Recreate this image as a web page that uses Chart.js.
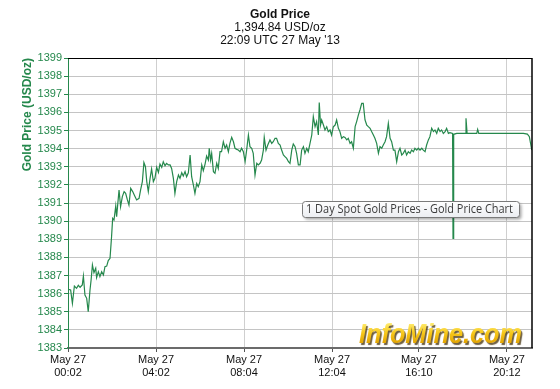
<!DOCTYPE html>
<html><head><meta charset="utf-8">
<script src="https://cdn.jsdelivr.net/npm/chart.js@4.4.0/dist/chart.umd.min.js"></script>
<style>html,body{margin:0;padding:0;background:#fff;overflow:hidden}</style>
</head><body><canvas id="c" width="560" height="389"></canvas>
<script>
// hours since 00:02 UTC, 27 May 2013
const times = [0.02,0.12,0.20,0.29,0.39,0.47,0.55,0.65,0.70,0.77,
0.85,0.92,1.00,1.05,1.11,1.18,1.26,1.30,1.38,1.45,
1.53,1.61,1.68,1.76,1.83,1.91,1.98,2.03,2.09,2.17,
2.21,2.32,2.39,2.47,2.55,2.62,2.70,2.77,2.85,2.94,
3.05,3.12,3.23,3.30,3.38,3.45,3.52,3.58,3.65,3.73,
3.80,3.88,3.95,4.03,4.11,4.18,4.26,4.33,4.41,4.48,
4.56,4.64,4.71,4.79,4.86,4.94,5.02,5.09,5.17,5.24,
5.32,5.39,5.47,5.55,5.62,5.70,5.77,5.85,5.92,6.00,
6.08,6.15,6.23,6.30,6.38,6.42,6.48,6.53,6.61,6.68,
6.76,6.83,6.91,6.98,7.06,7.14,7.21,7.29,7.36,7.44,
7.52,7.59,7.67,7.74,7.82,7.89,7.97,8.05,8.12,8.20,
8.27,8.35,8.42,8.50,8.58,8.65,8.73,8.80,8.88,8.92,
9.00,9.08,9.18,9.26,9.33,9.41,9.48,9.56,9.64,9.71,
9.79,9.86,9.94,10.02,10.09,10.17,10.24,10.32,10.39,10.47,
10.55,10.62,10.70,10.77,10.85,10.92,11.00,11.08,11.15,11.23,
11.30,11.38,11.42,11.48,11.53,11.61,11.68,11.76,11.83,11.91,
11.98,12.06,12.14,12.21,12.29,12.36,12.44,12.52,12.59,12.67,
12.74,12.82,12.89,12.97,13.05,13.12,13.20,13.27,13.35,13.42,
13.50,13.58,13.65,13.73,13.80,13.88,13.95,14.03,14.11,14.18,
14.26,14.33,14.41,14.48,14.56,14.64,14.71,14.79,14.86,14.94,
15.02,15.09,15.17,15.24,15.32,15.39,15.47,15.55,15.62,15.70,
15.77,15.85,15.92,16.00,16.08,16.15,16.23,16.30,16.38,16.45,
16.53,16.61,16.68,16.76,16.83,16.91,16.98,17.06,17.14,17.21,
17.29,17.36,17.48,17.50,17.53,17.67,18.05,18.09,18.14,18.58,
18.62,18.67,19.18,19.94,20.70,20.88,20.97,21.08];
const prices = [1386.24,1386.20,1385.46,1386.42,1386.29,1386.46,1386.35,1386.48,1386.97,1385.92,
1385.74,1385.00,1386.20,1386.75,1387.58,1387.16,1387.40,1386.88,1387.21,1386.94,
1387.21,1387.03,1387.49,1387.52,1387.82,1387.95,1389.14,1390.15,1390.06,1390.83,
1390.25,1391.72,1390.80,1391.35,1391.63,1391.53,1391.17,1390.89,1391.81,1391.63,
1391.35,1391.17,1391.26,1391.72,1392.18,1393.23,1393.00,1392.18,1391.63,1392.36,
1392.88,1392.18,1392.36,1392.97,1392.69,1393.15,1392.97,1393.28,1393.06,1393.19,
1393.10,1393.10,1392.91,1392.36,1391.53,1392.18,1392.54,1392.36,1392.67,1392.49,
1392.73,1392.45,1392.67,1393.65,1392.45,1391.99,1391.53,1392.08,1391.90,1392.18,
1393.10,1392.78,1393.15,1393.59,1393.37,1394.02,1393.37,1393.74,1392.73,1392.64,
1393.19,1392.91,1393.83,1393.83,1394.38,1394.02,1394.20,1393.83,1394.29,1394.62,
1394.38,1394.02,1393.96,1393.92,1393.83,1394.02,1393.83,1393.28,1393.92,1394.75,
1394.11,1394.02,1393.74,1392.54,1393.19,1393.10,1393.19,1393.37,1393.92,1394.62,
1393.92,1394.20,1394.48,1394.29,1394.38,1394.57,1394.57,1394.29,1394.20,1393.92,
1393.65,1393.56,1393.46,1393.28,1393.19,1393.92,1394.26,1394.11,1393.74,1393.10,
1393.10,1393.92,1394.11,1393.74,1394.02,1393.83,1394.29,1394.75,1395.76,1395.21,
1395.49,1394.75,1396.54,1395.30,1395.58,1395.30,1395.03,1395.21,1394.94,1395.03,
1394.75,1395.21,1395.30,1395.58,1395.12,1394.94,1394.57,1394.66,1394.62,1394.48,
1394.57,1394.29,1394.38,1394.02,1395.21,1395.49,1395.86,1396.13,1396.50,1396.50,
1395.58,1395.30,1395.21,1395.12,1394.94,1394.75,1394.57,1394.29,1393.74,1394.11,
1394.02,1394.20,1394.38,1394.66,1395.40,1394.57,1394.38,1393.92,1393.92,1393.28,
1393.83,1394.02,1393.65,1393.74,1393.92,1393.65,1393.83,1393.74,1393.92,1393.83,
1394.02,1393.92,1394.02,1393.92,1394.02,1393.92,1393.83,1394.20,1394.48,1394.66,
1395.12,1394.94,1395.03,1394.84,1395.12,1394.94,1395.03,1394.84,1394.94,1395.12,
1394.84,1394.88,1394.84,1389.05,1394.79,1394.84,1394.84,1395.67,1394.84,1394.84,
1395.06,1394.84,1394.84,1394.84,1394.84,1394.80,1394.66,1393.92];
const yTicks = [1383,1384,1385,1386,1387,1388,1389,1390,1391,1392,1393,1394,1395,1396,1397,1398,1399];
const xTickPositions = [0,4,8,12,15.95,19.95];
const xTickDates = ['May 27','May 27','May 27','May 27','May 27','May 27'];
const xTickTimes = ['00:02','04:02','08:04','12:04','16:10','20:12'];
const titleLines = ['Gold Price','1,394.84 USD/oz',"22:09 UTC 27 May '13"];
const yAxisTitle = 'Gold Price (USD/oz)';
const noteText = '1 Day Spot Gold Prices - Gold Price Chart';
const brandText = 'InfoMine.com';

const GREEN = '#25884c';
const points = times.map((t,i)=>({x:t,y:prices[i]}));

const decor = {
  id:'decor',
  beforeDatasetsDraw(chart){
    const ctx = chart.ctx, a = chart.chartArea;
    ctx.save();
    ctx.font = 'italic bold 27px "Liberation Sans", Arial, sans-serif';
    ctx.textAlign = 'right'; ctx.textBaseline = 'alphabetic';
    const g = ctx.createLinearGradient(0, a.bottom-26, 0, a.bottom-4);
    g.addColorStop(0,'#fff07a'); g.addColorStop(0.5,'#f7c81a'); g.addColorStop(1,'#e0a000');
    ctx.shadowColor = 'rgba(60,40,0,0.75)'; ctx.shadowOffsetX = 1.5; ctx.shadowOffsetY = 1.5; ctx.shadowBlur = 1;
    ctx.fillStyle = g;
    ctx.fillText(brandText, a.right-10, a.bottom-5, 163);
    ctx.restore();
  },
  afterDraw(chart){
    const ctx = chart.ctx, a = chart.chartArea;
    ctx.save();
    // top and right frame
    ctx.strokeStyle = '#000'; ctx.lineWidth = 1;
    ctx.beginPath(); ctx.moveTo(a.left, a.top+0.5); ctx.lineTo(a.right, a.top+0.5); ctx.stroke();
    ctx.lineWidth = 1.5;
    ctx.beginPath(); ctx.moveTo(a.right, a.top); ctx.lineTo(a.right, a.bottom); ctx.stroke();
    // header
    ctx.fillStyle = '#111'; ctx.textAlign = 'center'; ctx.textBaseline = 'middle';
    ctx.font = 'bold 12px "Liberation Sans", Arial, sans-serif';
    ctx.fillText(titleLines[0], 280, 15);
    ctx.font = '12px "Liberation Sans", Arial, sans-serif';
    ctx.fillText(titleLines[1], 280, 28);
    ctx.fillText(titleLines[2], 280, 41);
    // note box
    const bx = 302, by = 201, bw = 217, bh = 16;
    ctx.shadowColor = 'rgba(0,0,0,0.35)'; ctx.shadowBlur = 3; ctx.shadowOffsetX = 2; ctx.shadowOffsetY = 2;
    ctx.beginPath();
    if (ctx.roundRect) ctx.roundRect(bx+0.5, by+0.5, bw, bh, 3); else ctx.rect(bx+0.5, by+0.5, bw, bh);
    const bg = ctx.createLinearGradient(0, by, 0, by+bh);
    bg.addColorStop(0,'#ffffff'); bg.addColorStop(1,'#eceef2');
    ctx.fillStyle = bg; ctx.fill();
    ctx.shadowColor = 'transparent';
    ctx.strokeStyle = '#7a7a7a'; ctx.lineWidth = 1; ctx.stroke();
    ctx.fillStyle = '#3b3b3b'; ctx.textAlign = 'left'; ctx.textBaseline = 'middle';
    ctx.font = '12px "Open Sans", "Noto Sans", sans-serif';
    ctx.fillText(noteText, bx+4, by+bh/2+1, 207);
    ctx.restore();
  }
};

new Chart(document.getElementById('c'), {
  type:'scatter',
  data:{datasets:[{data:points, showLine:true, borderColor:GREEN, borderWidth:1.2, pointRadius:0, tension:0, fill:false}]},
  options:{
    responsive:false, animation:false,
    layout:{padding:{top:58, right:28, left:0, bottom:0}},
    plugins:{legend:{display:false}, tooltip:{enabled:false}, title:{display:false}},
    scales:{
      x:{type:'linear', min:0, max:21.09,
        afterBuildTicks:s=>{s.ticks = xTickPositions.map(v=>({value:v}));},
        afterFit:s=>{s.height = 41;},
        ticks:{callback:(v,i)=>[xTickDates[i], xTickTimes[i]], color:'#111', font:{family:'"Liberation Sans", Arial', size:11}, maxRotation:0, autoSkip:false, padding:1},
        grid:{color:'#cfcfcf', tickColor:'#555', tickLength:4},
        border:{color:'#6b6b6b', width:2}
      },
      y:{type:'linear', min:1383, max:1399,
        afterBuildTicks:s=>{s.ticks = yTicks.map(v=>({value:v}));},
        afterFit:s=>{s.width = 68;},
        ticks:{color:GREEN, font:{family:'"Liberation Sans", Arial', size:11}, padding:2, callback:v=>String(v)},
        grid:{color:'#c4c4c4', tickColor:GREEN, tickLength:4},
        border:{color:GREEN, width:1},
        title:{display:true, text:yAxisTitle, color:GREEN, align:'end', font:{family:'"Liberation Sans", Arial', size:12, weight:'bold'}, padding:{top:20, bottom:0}}
      }
    }
  },
  plugins:[decor]
});
</script>
</body></html>
